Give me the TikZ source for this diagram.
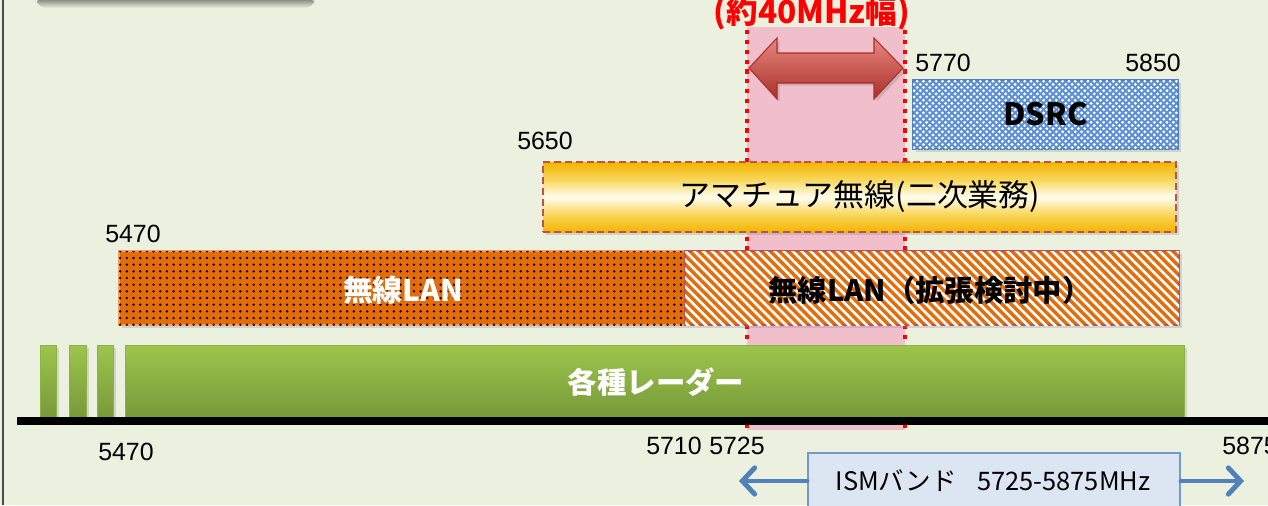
\documentclass[tikz,border=0pt]{standalone}
\usepackage{fontspec}
\setmainfont{Liberation Sans}
\newfontfamily\cjk{Noto Sans CJK JP}
\usetikzlibrary{patterns,patterns.meta,shadows,arrows.meta,fit}
\definecolor{bgc}{HTML}{ECF0DF}
\definecolor{pinkband}{HTML}{F0BFCB}
\definecolor{wlan}{HTML}{E46C0A}
\definecolor{wlanedge}{HTML}{F2A060}
\definecolor{brick}{HTML}{C0504D}
\definecolor{dsrcfill}{HTML}{5B8FD6}
\definecolor{dsrcedge}{HTML}{4F81BD}
\definecolor{gold}{HTML}{F3B400}
\definecolor{goldsoft}{HTML}{F9D860}
\definecolor{goldlight}{HTML}{FFFDF0}
\definecolor{greentop}{HTML}{9DC54C}
\definecolor{greenbot}{HTML}{77993A}
\definecolor{ismfill}{HTML}{DCE6F2}
\definecolor{ismblue}{HTML}{4F81BD}
\definecolor{arrowtop}{HTML}{E8877E}
\definecolor{arrowmid}{HTML}{D0453D}
\definecolor{arrowbot}{HTML}{A8302A}
\definecolor{shadowgray}{HTML}{5C6252}
\pgfdeclareverticalshading{goldband}{100bp}{color(0bp)=(gold); color(25bp)=(gold); color(38bp)=(goldsoft); color(50bp)=(goldlight); color(62bp)=(goldsoft); color(75bp)=(gold); color(100bp)=(gold)}
\newcommand\fsz[1]{\fontsize{#1}{#1}\selectfont}
\tikzset{
  num/.style={font=\fsz{14.2pt}, inner sep=0pt, text=black},
  boxbase/.style={inner sep=0pt, drop shadow={opacity=0.25, shadow xshift=1.5pt, shadow yshift=-1.5pt}},
  greenbar/.style={boxbase, top color=greentop, bottom color=greenbot, draw=greentop!90!black, line width=0.4pt},
  reddot/.style={draw=red, line width=2.4pt, dash pattern=on 2.4pt off 3.2pt},
  ismarrow/.style={draw=ismblue, line width=2.8pt, -{Straight Barb[length=7pt, width=15pt, line cap=round]}, line cap=round},
}
\begin{document}
\begin{tikzpicture}[x=0.02cm, y=-0.02cm]
\useasboundingbox (0,0) rectangle (1268,505);
\clip (0,0) rectangle (1268,505);
\fill[bgc] (0,0) rectangle (1268,505);
% shadow of the top-left box (box itself lies above the page)
\shade[top color=shadowgray, bottom color=bgc, rounded corners=5] (37,-4) rectangle (314,8);
\draw[line width=0.9pt, black!70] (3,0) -- (3,505);
% pink band
\fill[pinkband] (747,27) rectangle (905,430);
\coordinate (dlTop) at (747,30);
\coordinate (dlBot) at (747,432);
\coordinate (drTop) at (905,30);
\coordinate (drBot) at (905,432);
\draw[reddot] (dlTop) -- (dlBot);
\draw[reddot] (drTop) -- (drBot);
% title
\node[font=\cjk\bfseries\fsz{18pt}, text=red, inner sep=0pt] (title) at (812,13) {(約40MHz幅)};
% big double arrow
\shade[top color=arrowtop, middle color=arrowmid, bottom color=arrowbot, draw=arrowbot, line width=0.6pt, drop shadow={opacity=0.3, shadow xshift=1.5pt, shadow yshift=-1.5pt}]
  (749,68) -- (777,38) -- (777,53) -- (874,53) -- (874,38) -- (903,68) -- (874,99) -- (874,83) -- (777,83) -- (777,99) -- cycle;
% DSRC
\node[boxbase, fit={(913,80) (1178,149)}, fill=dsrcfill, draw=dsrcedge, line width=1pt,
      postaction={pattern={Dots[distance=3.6pt, radius=0.9pt]}, pattern color=white},
      postaction={pattern={Dots[distance=3.6pt, radius=0.9pt, xshift=1.8pt, yshift=1.8pt]}, pattern color=white}] (dsrc) {};
\node[font=\cjk\bfseries\fsz{17.5pt}, inner sep=0pt] (dsrctxt) at (dsrc.center) {DSRC};
% amateur
\node[boxbase, fit={(543,162) (1176,232)}, shading=goldband,
      draw=brick, line width=1.2pt, dash pattern=on 4pt off 2.2pt] (ama) {};
\node[font=\cjk\fsz{17.6pt}, inner sep=0pt] (amatxt) at (860,197) {アマチュア無線(二次業務)};
% WLAN
\node[boxbase, fit={(119,251) (686,325)}, fill=wlan, draw=wlanedge, line width=1pt,
      postaction={pattern={Dots[distance=3.8pt, radius=0.75pt]}, pattern color=black}] (wlan) {};
\node[font=\cjk\bfseries\fsz{17pt}, text=white, inner sep=0pt] (wlantxt) at (403,290) {無線LAN};
% WLAN extension
\node[boxbase, fit={(685,251) (1179,325)}, fill=wlan, draw=brick, line width=1.2pt,
      postaction={pattern={Lines[distance=3.6pt, angle=-45, line width=1.5pt]}, pattern color=white}] (wlanx) {};
\node[font=\cjk\bfseries\fsz{16.7pt}, inner sep=0pt] (wlanxtxt) at (930,290) {無線LAN（拡張検討中）};
% radar bars
\node[greenbar, fit={(40,345) (56,418)}] (r1) {};
\node[greenbar, fit={(69,345) (86,418)}] (r2) {};
\node[greenbar, fit={(97,345) (113,418)}] (r3) {};
\node[greenbar, fit={(125,345) (1184,418)}] (radar) {};
\node[font=\cjk\bfseries\fsz{16.7pt}, text=white, inner sep=0pt] (radartxt) at (656,382) {各種レーダー};
% axis
\coordinate (axL) at (17,421);
\coordinate (axR) at (1268,421);
\draw[line width=4pt, black] (axL) -- (axR);
% frequency labels
\node[num] (l5770) at (943,63) {5770};
\node[num] (l5850) at (1153,63) {5850};
\node[num] (l5650) at (545,141) {5650};
\node[num] (l5470a) at (133,234) {5470};
\node[num] (l5470b) at (126,452) {5470};
\node[num] (l5710) at (674,446) {5710};
\node[num] (l5725) at (737,446) {5725};
\node[num, anchor=west] (l5875) at (1222,446) {5875};
% ISM band
\node[fit={(808,453) (1180,511)}, inner sep=0pt, fill=ismfill, draw=ismblue!80, line width=1.2pt] (ism) {};
\node[font=\cjk\fsz{14.5pt}, inner sep=0pt] (ismtxt) at (993,481) {ISMバンド\hspace{0.8em}5725-5875MHz};
\coordinate (ismL) at (739,481);
\coordinate (ismR) at (1244,481);
\draw[ismarrow] (ism.west |- ismL) -- (ismL);
\draw[ismarrow] (ism.east |- ismR) -- (ismR);
\end{tikzpicture}
\end{document}
